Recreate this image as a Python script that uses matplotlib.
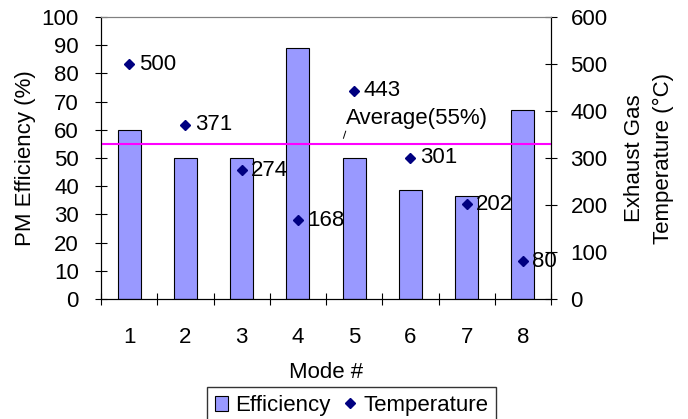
import matplotlib.pyplot as plt
from matplotlib.lines import Line2D
from matplotlib.patches import Patch

plt.rcParams['font.family'] = ['Liberation Sans', 'DejaVu Sans']
plt.rcParams['font.size'] = 16

# data
modes = [1, 2, 3, 4, 5, 6, 7, 8]
efficiency = [60, 50, 50, 89, 50, 38.5, 36.5, 67]
temperature = [500, 371, 274, 168, 443, 301, 202, 80]
average = 55

fig = plt.figure(figsize=(6.88, 4.19), dpi=100)
ax = fig.add_axes([0.1468, 0.2864, 0.6541, 0.6730])
ax2 = ax.twinx()

ax.bar(modes, efficiency, width=0.41, color='#9999FF', edgecolor='black', linewidth=0.8, zorder=2)
ax.axhline(average, color='#FF00FF', linewidth=1.5, zorder=3)
ax.text(4.85, average + 5.3, 'Average(55%)', ha='left', va='bottom')
ax.plot([4.81, 4.85], [average + 2, average + 4.5], color='black', linewidth=0.7)

ax2.plot(modes, temperature, linestyle='none', marker='D', markersize=5.5, color='#000080', zorder=4)
for m, t in zip(modes, temperature):
    ax2.text(m + 0.17, t, str(t), ha='left', va='center')

ax.set_xlim(0.5, 8.5)
ax.set_ylim(0, 100)
ax2.set_ylim(0, 600)
ax.set_yticks(range(0, 101, 10))
ax2.set_yticks(range(0, 601, 100))
ax.set_xticks(modes)
ax.set_xticks([m + 0.5 for m in range(0, 9)], minor=True)
ax.tick_params(axis='x', which='major', length=0, pad=20)
ax.tick_params(axis='x', which='minor', direction='inout', length=8, width=0.8)
ax.tick_params(axis='y', direction='inout', length=8, width=0.8, pad=12)
ax2.tick_params(axis='y', direction='inout', length=8, width=0.8, pad=10)

for a in (ax, ax2):
    a.spines['top'].set_color('#808080')
    a.spines['left'].set_linewidth(0.8)
    a.spines['right'].set_linewidth(0.8)
    a.spines['bottom'].set_linewidth(0.8)

ax.set_xlabel('Mode #', labelpad=10)
ax.set_ylabel('PM Efficiency (%)', labelpad=4)
ax2.set_ylabel('Exhaust Gas\nTemperature (°C)', labelpad=12, linespacing=1.45)

handles = [Patch(facecolor='#9999FF', edgecolor='black', linewidth=0.8),
           Line2D([], [], linestyle='none', marker='D', markersize=5.5, color='#000080')]
fig.legend(handles, ['Efficiency', 'Temperature'], loc='lower center', bbox_to_anchor=(0.511, -0.012),
           ncol=2, frameon=True, fancybox=False, edgecolor='black', handlelength=0.6,
           handletextpad=0.3, columnspacing=0.6, borderpad=0.35, borderaxespad=0.0)

fig.savefig('out.png', dpi=100)
